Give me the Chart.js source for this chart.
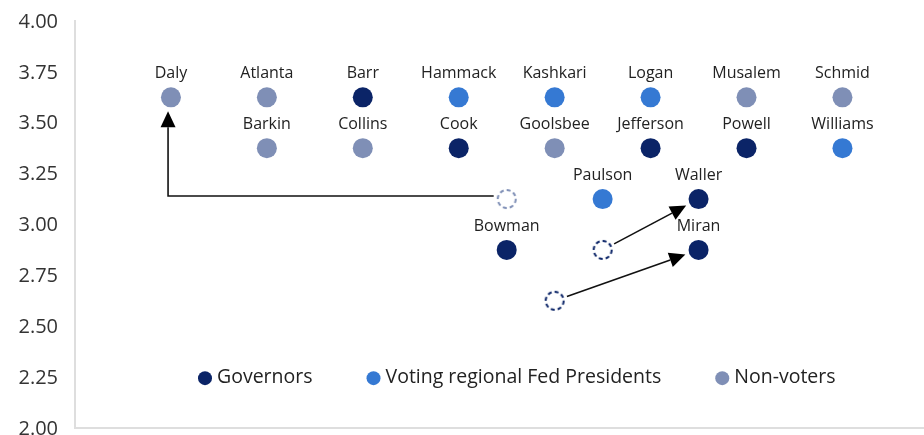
<!DOCTYPE html>
<html>
<head>
<meta charset="utf-8">
<script src="https://cdn.jsdelivr.net/npm/chart.js@4.4.1/dist/chart.umd.min.js"></script>
<style>
  html, body { margin: 0; padding: 0; background: #fff; }
  #wrap { width: 924px; height: 435px; }
</style>
</head>
<body>
<div id="wrap"><canvas id="chart"></canvas></div>
<script>
// Governors
const govNames = ['Barr', 'Cook', 'Jefferson', 'Powell', 'Waller', 'Bowman', 'Miran'];
const govX     = [3, 4, 6, 7, 6.5, 4.5, 6.5];
const govY     = [3.625, 3.375, 3.375, 3.375, 3.125, 2.875, 2.875];

// Voting regional Fed presidents
const votNames = ['Hammack', 'Kashkari', 'Logan', 'Williams', 'Paulson'];
const votX     = [4, 5, 6, 8, 5.5];
const votY     = [3.625, 3.625, 3.625, 3.375, 3.125];

// Non-voters
const nonNames = ['Daly', 'Atlanta', 'Musalem', 'Schmid', 'Barkin', 'Collins', 'Goolsbee'];
const nonX     = [1, 2, 7, 8, 2, 3, 5];
const nonY     = [3.625, 3.625, 3.625, 3.625, 3.375, 3.375, 3.375];

// earlier positions (dashed rings): Daly, Waller, Miran
const prevX     = [4.5, 5.5, 5];
const prevY     = [3.125, 2.875, 2.625];
const prevGroup = ['non', 'gov', 'gov'];

// moves from the earlier position to the current one
const moves = [
  [[4.5, 3.14], [0.97, 3.14], [0.97, 3.625]],
  [[5.5, 2.875], [6.5, 3.125]],
  [[5, 2.625], [6.5, 2.875]]
];

const yTicks = { min: 2, max: 4, step: 0.25 };

const colors = { gov: '#0b2467', vot: '#3579d3', non: '#7f8fb6' };
const FONT = '"Open Sans", Lato, sans-serif';

const pts = (xs, ys) => xs.map((x, i) => ({ x: x, y: ys[i] }));

function dashedRing(color) {
  const c = document.createElement('canvas');
  c.width = c.height = 24;
  const g = c.getContext('2d');
  g.strokeStyle = color;
  g.lineWidth = 2;
  g.setLineDash([4, 3]);
  g.beginPath();
  g.arc(12, 12, 9, 0, Math.PI * 2);
  g.stroke();
  return c;
}

// y tick labels, drawn by hand so the bottom one can run off the canvas
const yLabels = {
  id: 'yLabels',
  afterDraw(chart) {
    const ctx = chart.ctx, s = chart.scales.y;
    ctx.save();
    ctx.font = '20px ' + FONT;
    ctx.fillStyle = '#333';
    ctx.textAlign = 'right';
    ctx.textBaseline = 'middle';
    s.ticks.forEach(t => {
      ctx.fillText(t.value.toFixed(2), chart.chartArea.left - 17, s.getPixelForValue(t.value) + 1);
    });
    ctx.restore();
  }
};

const nameLabels = {
  id: 'nameLabels',
  afterDatasetsDraw(chart) {
    const ctx = chart.ctx;
    ctx.save();
    ctx.font = '16px ' + FONT;
    ctx.fillStyle = '#222';
    ctx.textAlign = 'center';
    ctx.textBaseline = 'middle';
    chart.data.datasets.forEach((ds, di) => {
      if (!ds.names) return;
      chart.getDatasetMeta(di).data.forEach((p, i) => {
        ctx.fillText(ds.names[i], p.x, p.y - 24);
      });
    });
    ctx.restore();
  }
};

const moveArrows = {
  id: 'moveArrows',
  afterDatasetsDraw(chart) {
    const ctx = chart.ctx, xs = chart.scales.x, ys = chart.scales.y;
    const trim = 13, head = 16, half = 7.5;
    ctx.save();
    ctx.strokeStyle = '#111';
    ctx.fillStyle = '#000';
    ctx.lineWidth = 1.6;
    moves.forEach(path => {
      const p = path.map(([x, y]) => [xs.getPixelForValue(x), ys.getPixelForValue(y)]);
      // pull the ends back off the rings/dots
      let [ax, ay] = p[0], [bx, by] = p[1];
      let d = Math.hypot(bx - ax, by - ay);
      p[0] = [ax + (bx - ax) / d * trim, ay + (by - ay) / d * trim];
      const n = p.length;
      [ax, ay] = p[n - 2]; [bx, by] = p[n - 1];
      d = Math.hypot(bx - ax, by - ay);
      const ux = (bx - ax) / d, uy = (by - ay) / d;
      const tip = [bx - ux * (trim + 1), by - uy * (trim + 1)];
      const base = [tip[0] - ux * head, tip[1] - uy * head];
      ctx.beginPath();
      ctx.moveTo(p[0][0], p[0][1]);
      for (let i = 1; i < n - 1; i++) ctx.lineTo(p[i][0], p[i][1]);
      ctx.lineTo(base[0], base[1]);
      ctx.stroke();
      ctx.beginPath();
      ctx.moveTo(tip[0], tip[1]);
      ctx.lineTo(base[0] - uy * half, base[1] + ux * half);
      ctx.lineTo(base[0] + uy * half, base[1] - ux * half);
      ctx.closePath();
      ctx.fill();
    });
    ctx.restore();
  }
};

const innerLegend = {
  id: 'innerLegend',
  afterDraw(chart) {
    const ctx = chart.ctx, area = chart.chartArea;
    const y = chart.scales.y.getPixelForValue(2.25);
    let x = area.left + 130;
    ctx.save();
    ctx.font = '19.5px ' + FONT;
    ctx.textBaseline = 'middle';
    ctx.textAlign = 'left';
    chart.data.datasets.slice(0, 3).forEach(ds => {
      ctx.fillStyle = ds.backgroundColor;
      ctx.beginPath();
      ctx.arc(x, y + 1, 7, 0, Math.PI * 2);
      ctx.fill();
      ctx.fillStyle = '#222';
      ctx.fillText(ds.label, x + 12, y);
      x += 12 + ctx.measureText(ds.label).width + 61;
    });
    ctx.restore();
  }
};

new Chart(document.getElementById('chart'), {
  type: 'scatter',
  data: {
    datasets: [
      { label: 'Governors', names: govNames, data: pts(govX, govY),
        backgroundColor: colors.gov, borderWidth: 0, pointRadius: 10 },
      { label: 'Voting regional Fed Presidents', names: votNames, data: pts(votX, votY),
        backgroundColor: colors.vot, borderWidth: 0, pointRadius: 10 },
      { label: 'Non-voters', names: nonNames, data: pts(nonX, nonY),
        backgroundColor: colors.non, borderWidth: 0, pointRadius: 10 },
      { label: 'Previous', data: pts(prevX, prevY),
        pointStyle: prevGroup.map(g => dashedRing(colors[g])), pointRadius: 10 }
    ]
  },
  options: {
    responsive: true,
    maintainAspectRatio: false,
    animation: false,
    layout: { autoPadding: false, padding: { top: 21, bottom: 7, left: 0, right: 0 } },
    plugins: { legend: { display: false }, tooltip: { enabled: false } },
    scales: {
      x: {
        type: 'linear', min: 0, max: 8.85,
        ticks: { display: false },
        grid: { display: false, drawTicks: false },
        border: { color: '#dedede', width: 2 },
        afterFit(s) { s.height = 0; }
      },
      y: {
        min: yTicks.min, max: yTicks.max,
        ticks: { stepSize: yTicks.step, display: false },
        grid: { display: false, drawTicks: false },
        border: { color: '#dedede', width: 2 },
        afterFit(s) { s.width = 75; }
      }
    }
  },
  plugins: [moveArrows, nameLabels, innerLegend, yLabels]
});
</script>
</body>
</html>
